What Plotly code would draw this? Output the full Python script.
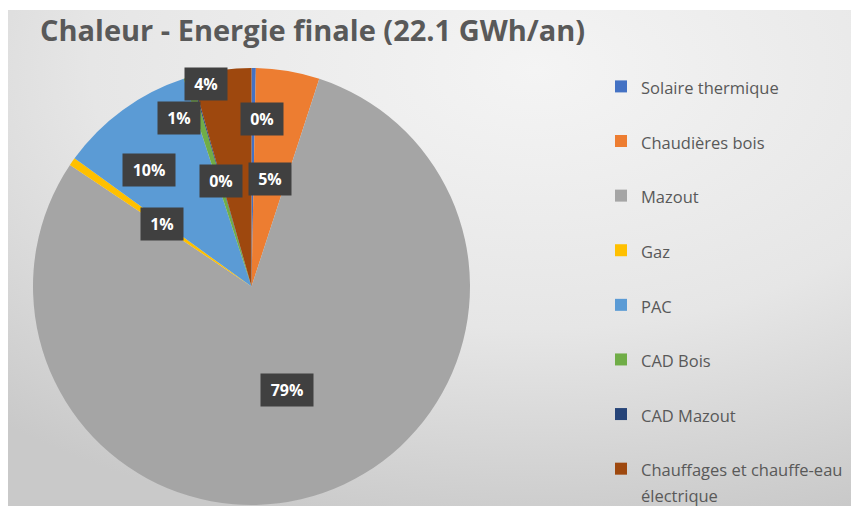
import base64
import math
import plotly.graph_objects as go

# ---------------- data ----------------
labels = ["Solaire thermique", "Chaudières bois", "Mazout", "Gaz", "PAC",
          "CAD Bois", "CAD Mazout", "Chauffages et chauffe-eau<br>électrique"]
values_gwh = [0.07, 1.04, 17.54, 0.13, 2.21, 0.12, 0.02, 0.97]
colors = ["#4472C4", "#ED7D31", "#A5A5A5", "#FFC000", "#5B9BD5",
          "#70AD47", "#264478", "#9E480E"]
title_text = "Chaleur - Energie finale (22.1 GWh/an)"

# ---------------- layout / style ----------------
# the page body adds an 8px margin, so the figure is 851x498
W, H = 851, 498
CX, CY, R = 243.5, 278.5, 218.5          # pie centre / radius in px (from top-left of figure)
label_r = [0.77, 0.5, 0.5, 0.5, 0.71, 0.84, 0.5, 0.95]   # label distance (fraction of R)
label_dang = [3.0, 0, 0, 0, -5.5, -6.0, 0, -4.8]          # label angle nudge (deg)
LEG_FS = 19.85
TXT_FS = 16.5
FONT = "Open Sans"
TXT_COLOR = "#595959"

total = sum(values_gwh)


def legend_label(lbl):
    lines = lbl.split("<br>")
    body = "<br>".join(f"<span style='font-size:{TXT_FS}px'>{l}</span>" for l in lines)
    return body + ("<br> " if len(lines) == 1 else "")


legend_labels = [legend_label(l) for l in labels]

fig = go.Figure()
fig.add_trace(go.Pie(
    labels=legend_labels,
    values=values_gwh,
    marker=dict(colors=colors, line=dict(width=0)),
    sort=False,
    direction="clockwise",
    rotation=0,
    textinfo="none",
    hoverinfo="percent",
    domain=dict(x=[(CX - R) / W, (CX + R) / W],
                y=[(H - CY - R) / H, (H - CY + R) / H]),
))

# data labels (dark boxes) placed from the slice geometry
annotations = []
cum = 0.0
for i, v in enumerate(values_gwh):
    frac = v / total
    mid = (cum + frac / 2) * 360 + label_dang[i]
    cum += frac
    th = math.radians(mid)
    px = CX + label_r[i] * R * math.sin(th)
    py = CY - label_r[i] * R * math.cos(th)
    txt = f"{round(frac * 100)}%"
    annotations.append(dict(
        x=px / W, y=1 - py / H, xref="paper", yref="paper",
        text=f"<b>{txt}</b>", showarrow=False,
        font=dict(family=FONT, size=16, color="white"),
        bgcolor="#404040", borderpad=7,
        width=len(txt) * 10 + 8, height=18,
        xanchor="center", yanchor="middle",
    ))

# background gradient (chart area)
svg = (
    '<svg xmlns="http://www.w3.org/2000/svg" width="851" height="496" '
    'viewBox="0 0 851 496" preserveAspectRatio="none">'
    '<defs><radialGradient id="g" cx="0.62" cy="0.12" r="0.95">'
    '<stop offset="0" stop-color="#f4f4f4"/>'
    '<stop offset="0.55" stop-color="#e6e6e6"/>'
    '<stop offset="1" stop-color="#c9c9c9"/>'
    '</radialGradient></defs>'
    '<rect width="851" height="496" fill="url(#g)"/></svg>'
)
src = "data:image/svg+xml;base64," + base64.b64encode(svg.encode()).decode()

fig.update_layout(
    width=W, height=H,
    margin=dict(l=0, r=0, t=0, b=0, autoexpand=False),
    paper_bgcolor="white",
    plot_bgcolor="rgba(0,0,0,0)",
    images=[dict(source=src, xref="paper", yref="paper",
                 x=0, y=1 - 2 / H, sizex=1, sizey=(H - 2) / H,
                 xanchor="left", yanchor="top", sizing="stretch", layer="below")],
    title=dict(text=f"<b>{title_text}</b>", x=32 / W, xanchor="left", xref="paper",
               y=1 - 22.5 / H, yanchor="middle", yref="paper",
               font=dict(family=FONT, size=29, color=TXT_COLOR)),
    showlegend=True,
    legend=dict(x=593 / W, xanchor="left", y=1 - 59 / H, yanchor="top",
                valign="top",
                bgcolor="rgba(0,0,0,0)", traceorder="normal",
                font=dict(family=FONT, size=LEG_FS, color=TXT_COLOR)),
    annotations=annotations,
)

fig.write_html("out.html")
